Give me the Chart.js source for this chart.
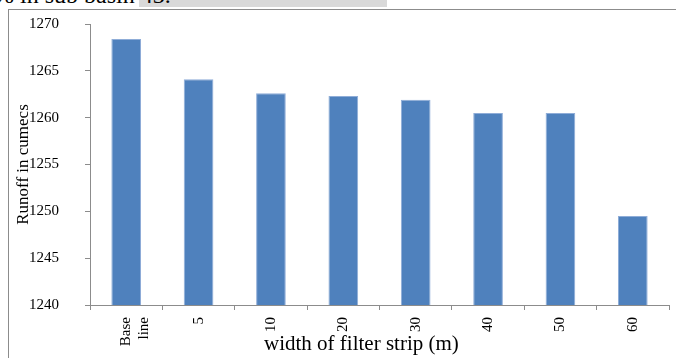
<!DOCTYPE html>
<html>
<head>
<meta charset="utf-8">
<script src="https://cdn.jsdelivr.net/npm/chart.js@4"></script>
<style>
  html, body { margin: 0; padding: 0; background: #ffffff; overflow: hidden; }
  body { width: 676px; height: 358px; position: relative; }
  #hl { position: absolute; left: 139px; top: 0; width: 248px; height: 7px; background: #d9d9d9; }
  #caption { position: absolute; left: -6px; top: -20px; font-family: "Liberation Serif", serif; font-size: 24px; color: #000; white-space: pre; line-height: 30px; }
  #frame { position: absolute; left: 8px; top: 9px; width: 668px; height: 349px; border-left: 1px solid #8c8c8c; border-top: 1px solid #8c8c8c; box-sizing: border-box; }
  #wrap { position: absolute; left: 0; top: -11px; width: 676px; height: 369px; }
  #cover { position: absolute; left: 671px; top: 11px; width: 10px; height: 350px; background: #ffffff; }
  #xtitle { position: absolute; left: 264px; top: 330px; width: 192px; text-align: center; font-family: "Liberation Serif", serif; font-size: 21px; line-height: 26px; color: #000; white-space: pre; }
</style>
</head>
<body>
<div id="hl"></div>
<div id="caption">% in sub basin 43.</div>
<div id="frame"></div>
<div id="wrap"><canvas id="c" width="676" height="369"></canvas></div>
<div id="cover"></div>
<div id="xtitle"></div>
<script>
const categories = [["Base", "line"], "5", "10", "20", "30", "40", "50", "60"];
const runoffValues = [1268.4, 1264.1, 1262.6, 1262.3, 1261.9, 1260.5, 1260.5, 1249.5];
const yMin = 1240;
const yMax = 1270;
const yStep = 5;
const yTitle = "Runoff in cumecs";
const xTitle = "width of filter strip (m)";

document.getElementById("xtitle").textContent = xTitle;

const axisGray = "#8c8c8c";

new Chart(document.getElementById("c"), {
  type: "bar",
  data: {
    labels: categories,
    datasets: [{
      data: runoffValues,
      backgroundColor: "#4f81bd",
      borderColor: "#8fadd8",
      borderWidth: 1,
      barPercentage: 0.41,
      categoryPercentage: 1.0
    }]
  },
  options: {
    responsive: false,
    animation: false,
    devicePixelRatio: 1,
    layout: { padding: { left: 10, top: 0, right: 7, bottom: 0 } },
    plugins: { legend: { display: false }, tooltip: { enabled: false } },
    scales: {
      x: {
        offset: true,
        grid: { display: true, drawOnChartArea: false, drawTicks: true, tickLength: 5, tickColor: axisGray, offset: true },
        border: { display: true, color: axisGray, width: 1 },
        ticks: {
          color: "#000",
          font: { family: "Liberation Serif", size: 15 },
          minRotation: 90, maxRotation: 90,
          padding: 7,
          autoSkip: false
        },
        title: { display: false },
        afterFit(scale) { scale.height = 53; }
      },
      y: {
        min: yMin, max: yMax,
        grid: { display: true, drawOnChartArea: false, drawTicks: true, tickLength: 5, tickColor: axisGray },
        border: { display: true, color: axisGray, width: 1 },
        ticks: {
          stepSize: yStep, color: "#000",
          font: { family: "Liberation Serif", size: 15 },
          padding: 26,
          callback: (v) => String(v)
        },
        title: {
          display: true, text: yTitle, color: "#000",
          font: { family: "Liberation Serif", size: 17 },
          padding: { top: 3, bottom: 0 }
        },
        afterFit(scale) { scale.width = 80; }
      }
    }
  }
});
</script>
</body>
</html>
